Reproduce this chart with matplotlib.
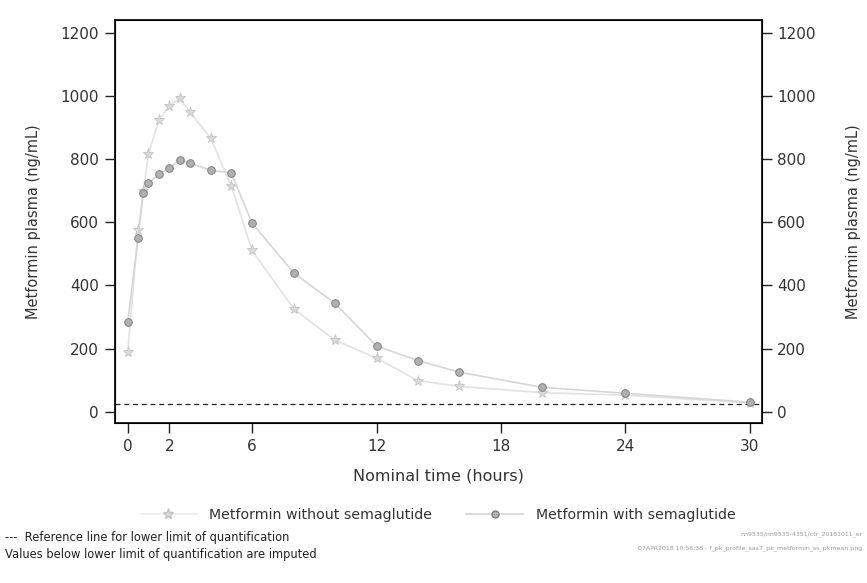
import numpy as np
import matplotlib.pyplot as plt
from matplotlib.lines import Line2D

# nominal sampling times (hours)
times = [0, 0.5, 0.75, 1, 1.5, 2, 2.5, 3, 4, 5, 6, 8, 10, 12, 14, 16, 20, 24, 30]

# mean metformin plasma concentration (ng/mL)
without_sema = [188, 575, 700, 816, 924, 968, 994, 949, 867, 714, 511, 326, 226, 170, 98, 80, 60, 52, 28]
with_sema = [284, 550, 692, 724, 752, 772, 796, 788, 765, 756, 597, 440, 343, 208, 162, 125, 77, 58, 30]

lloq = 25
xticks = [0, 2, 6, 12, 18, 24, 30]
yticks = [0, 200, 400, 600, 800, 1000, 1200]

plt.rcParams['font.family'] = ['DejaVu Sans']

fig = plt.figure(figsize=(8.67, 5.83), dpi=100)
ax = fig.add_axes([0.133, 0.275, 0.746, 0.69])

ax.plot(times, without_sema, color='#e2e2e2', lw=1.2, marker='*', markersize=8,
        markerfacecolor='#dadada', markeredgecolor='#c4c4c4', markeredgewidth=0.6, zorder=3)
ax.plot(times, with_sema, color='#d6d6d6', lw=1.2, marker='o', markersize=5.5,
        markerfacecolor='#b0b0b0', markeredgecolor='#808080', markeredgewidth=0.7, zorder=4)
ax.axhline(lloq, color='#222222', lw=0.9, ls=(0, (4, 3)), zorder=2)

ax.set_xlim(-0.6, 30.6)
ax.set_ylim(-35, 1240)
ax.set_xticks(xticks)
ax.set_yticks(yticks)
ax.tick_params(direction='out', length=7, width=1, pad=5, colors='#222222',
               labelsize=11, labelcolor='#333333')
for s in ax.spines.values():
    s.set_linewidth(1.3)
    s.set_color('#111111')
ax.set_xlabel('Nominal time (hours)', fontsize=11.5, color='#333333', labelpad=10)
ax.set_ylabel('Metformin plasma (ng/mL)', fontsize=10.5, color='#333333', labelpad=14)

ax2 = ax.twinx()
ax2.set_ylim(ax.get_ylim())
ax2.set_yticks(yticks)
ax2.tick_params(direction='out', length=7, width=1, pad=4, colors='#222222',
                labelsize=11, labelcolor='#333333')
ax2.set_ylabel('Metformin plasma (ng/mL)', fontsize=10.5, color='#333333', labelpad=22)

handles = [
    Line2D([], [], color='#ececec', lw=1.2, marker='*', markersize=8,
           markerfacecolor='#dadada', markeredgecolor='#c4c4c4'),
    Line2D([], [], color='#d6d6d6', lw=1.2, marker='o', markersize=5,
           markerfacecolor='#b0b0b0', markeredgecolor='#808080'),
]
fig.legend(handles, ['Metformin without semaglutide', 'Metformin with semaglutide'],
           loc='center', bbox_to_anchor=(0.505, 0.117), ncol=2, frameon=False,
           fontsize=10.2, handlelength=4, handletextpad=0.9, columnspacing=2.4,
           labelcolor='#333333')

fig.text(0.006, 0.072, '---  Reference line for lower limit of quantification', fontsize=8.3, color='#222222')
fig.text(0.006, 0.043, 'Values below lower limit of quantification are imputed', fontsize=8.3, color='#222222')
fig.text(0.995, 0.082, 'nn9535/nn9535-4351/ctr_20181011_er', fontsize=4.5, color='#999999', ha='right')
fig.text(0.995, 0.058, '07APR2018 10:56:38 - f_pk_profile_sas7_pk_metformin_ss_pkmean.png', fontsize=4.5,
         color='#999999', ha='right')

fig.savefig('out.png', dpi=100)
